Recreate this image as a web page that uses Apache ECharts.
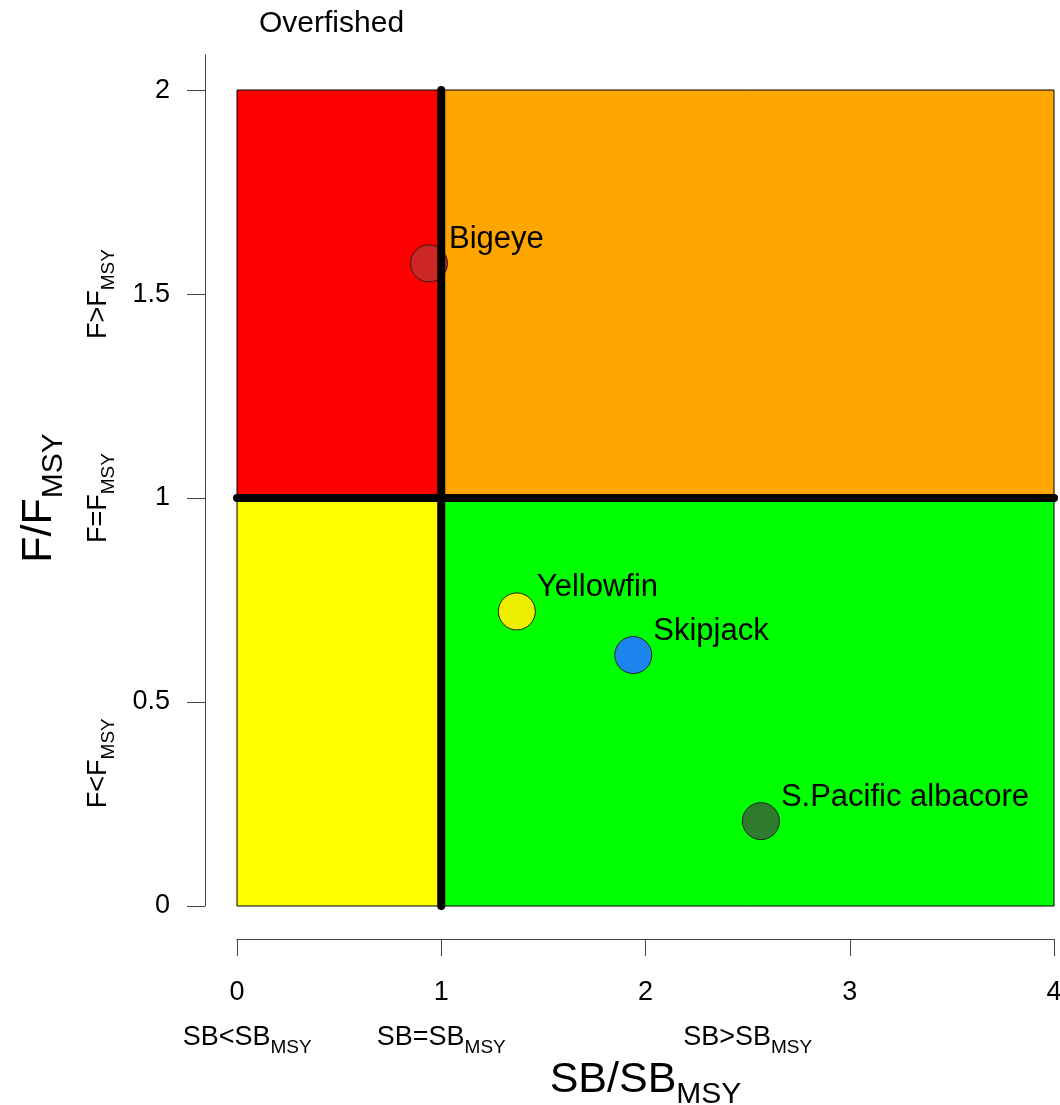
<!DOCTYPE html>
<html><head><meta charset="utf-8">
<script src="https://cdn.jsdelivr.net/npm/echarts@6/dist/echarts.min.js"></script>
<style>html,body{margin:0;padding:0;background:#fff}#c{width:1060px;height:1105px}</style>
</head><body><div id="c"></div>
<script>
// ---- data ----
const species = ['Bigeye', 'Yellowfin', 'Skipjack', 'S.Pacific albacore'];
const sbRatio = [0.94, 1.37, 1.94, 2.565];
const fRatio = [1.575, 0.722, 0.615, 0.208];
const pointColors = ['#CD2626', '#EEEE00', '#1C86EE', '#2E7B2E'];
const yTicks = [0, 0.5, 1, 1.5, 2];
const xStatusAt = [0.05, 1, 2.5];
const xStatusMain = ['SB<SB', 'SB=SB', 'SB>SB'];
const yStatusAt = [0.35, 1, 1.5];
const yStatusMain = ['F<F', 'F=F', 'F>F'];
const subText = 'MSY';
// zones: [x0, y0, x1, y1]
const zoneBounds = [[0, 0, 1, 1], [1, 0, 4, 1], [0, 1, 1, 2], [1, 1, 4, 2]];
const zoneColors = ['#FFFF00', '#00FF00', '#FF0000', '#FFA500'];
const refX = 1, refY = 1;
const xMin = 0, xMax = 4, yMin = 0, yMax = 2;
const yAxisLineTop = 2.086;

const FONT = "'Liberation Sans', Arial, sans-serif";
const richSmall = {
  m: {fontSize: 27, lineHeight: 27, verticalAlign: 'top', fontFamily: FONT, color: '#000'},
  s: {fontSize: 19, lineHeight: 19, verticalAlign: 'top', padding: [14, 0, 0, 0], fontFamily: FONT, color: '#000'}
};
const richBig = {
  m: {fontSize: 43, lineHeight: 43, verticalAlign: 'top', fontFamily: FONT, color: '#000'},
  s: {fontSize: 30, lineHeight: 30, verticalAlign: 'top', padding: [21, 0, 0, 0], fontFamily: FONT, color: '#000'}
};
const axisCol = '#444';

const chart = echarts.init(document.getElementById('c'));
chart.setOption({
  animation: false,
  backgroundColor: '#fff',
  title: {text: 'Overfished', left: 259, top: 9, padding: 0,
    textStyle: {fontSize: 30, fontWeight: 'normal', color: '#000', fontFamily: FONT}},
  grid: [
    {left: 237, right: 6, top: 55, bottom: 199, outerBoundsMode: 'none', containLabel: false},
    {left: 237, right: 6, top: 90, bottom: 199, outerBoundsMode: 'none', containLabel: false}
  ],
  xAxis: [
    {gridIndex: 0, type: 'value', min: xMin, max: xMax, show: false},
    {gridIndex: 1, type: 'value', min: xMin, max: xMax, interval: 1, position: 'bottom', offset: 33,
      axisLine: {show: true, onZero: false, lineStyle: {color: axisCol, width: 1}},
      axisTick: {show: true, length: 17, lineStyle: {color: axisCol, width: 1}},
      axisLabel: {fontSize: 27, margin: 40, color: '#000', fontFamily: FONT},
      splitLine: {show: false},
      name: '{m|SB/SB}{s|' + subText + '}', nameLocation: 'middle', nameGap: 120,
      nameTextStyle: {rich: richBig}},
    {gridIndex: 1, type: 'value', min: xMin, max: xMax, position: 'bottom', offset: 33,
      axisLine: {show: false, onZero: false}, axisTick: {show: false}, splitLine: {show: false},
      axisLabel: {customValues: xStatusAt, margin: 85, rich: richSmall,
        formatter: v => '{m|' + xStatusMain[xStatusAt.indexOf(v)] + '}{s|' + subText + '}'}}
  ],
  yAxis: [
    {gridIndex: 0, type: 'value', min: yMin, max: yAxisLineTop, position: 'left', offset: 32,
      axisLine: {show: true, onZero: false, lineStyle: {color: axisCol, width: 1}},
      axisTick: {show: true, length: 18, customValues: yTicks, lineStyle: {color: axisCol, width: 1}},
      axisLabel: {customValues: yTicks, fontSize: 27, margin: 35, color: '#000', fontFamily: FONT},
      splitLine: {show: false}},
    {gridIndex: 1, type: 'value', min: yMin, max: yMax, position: 'left', offset: 32,
      axisLine: {show: false, onZero: false}, axisTick: {show: false}, splitLine: {show: false},
      axisLabel: {customValues: yStatusAt, rotate: 90, margin: 93, rich: richSmall,
        formatter: v => '{m|' + yStatusMain[yStatusAt.indexOf(v)] + '}{s|' + subText + '}'},
      name: '{m|F/F}{s|' + subText + '}', nameLocation: 'middle', nameRotate: 90, nameGap: 144,
      nameTextStyle: {rich: richBig}}
  ],
  series: [
    {type: 'custom', xAxisIndex: 1, yAxisIndex: 1, z: 1, silent: true, clip: false,
      encode: {x: [0, 2], y: [1, 3]},
      data: zoneBounds.map((b, i) => b.concat([i])),
      renderItem: (params, api) => {
        const p0 = api.coord([api.value(0), api.value(3)]);
        const p1 = api.coord([api.value(2), api.value(1)]);
        return {type: 'rect',
          shape: {x: p0[0], y: p0[1], width: p1[0] - p0[0], height: p1[1] - p0[1]},
          style: {fill: zoneColors[api.value(4)], stroke: '#000', lineWidth: 1}};
      }},
    {type: 'scatter', xAxisIndex: 1, yAxisIndex: 1, z: 2, symbol: 'circle', symbolSize: 37,
      data: species.map((s, i) => ({name: s, value: [sbRatio[i], fRatio[i]],
        itemStyle: {color: pointColors[i], opacity: 1, borderColor: '#222', borderWidth: 1}})),
      label: {show: true, formatter: p => p.name, position: 'right', distance: 1, offset: [0, -24],
        fontSize: 31, color: '#000', fontFamily: FONT}},
    {type: 'line', xAxisIndex: 1, yAxisIndex: 1, z: 3, silent: true, clip: false, symbol: 'none',
      lineStyle: {color: '#000', width: 8, cap: 'round'},
      data: [[refX, yMin], [refX, yMax]]},
    {type: 'line', xAxisIndex: 1, yAxisIndex: 1, z: 3, silent: true, clip: false, symbol: 'none',
      lineStyle: {color: '#000', width: 8, cap: 'round'},
      data: [[xMin, refY], [xMax, refY]]}
  ]
});
</script></body></html>
